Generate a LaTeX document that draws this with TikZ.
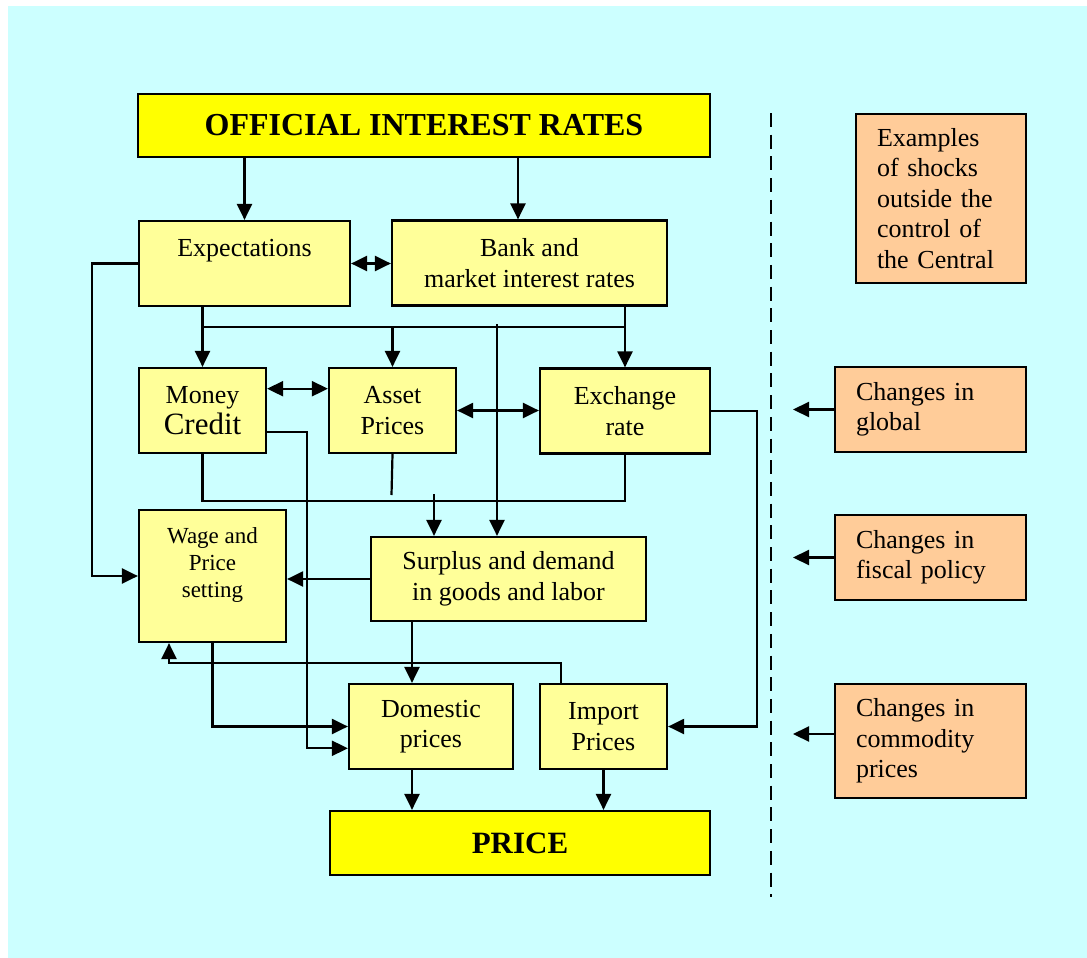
\documentclass[tikz,border=0pt]{standalone}
\usepackage{fontspec}
\setmainfont{Liberation Serif}
\usetikzlibrary{arrows.meta,calc}
\definecolor{bgcyan}{HTML}{CCFFFF}
\definecolor{lyel}{HTML}{FFFF99}
\definecolor{byel}{HTML}{FFFF00}
\definecolor{orng}{HTML}{FFCC99}
\tikzset{
  box/.style={draw=black, line width=2.2pt, fill=lyel, rectangle, inner sep=0pt,
    align=center, font=\fontsize{26}{30.5}\selectfont},
  bigbox/.style={box, fill=byel, font=\fontsize{32}{36}\selectfont\bfseries},
  shockbox/.style={draw=black, line width=2.2pt, fill=orng, rectangle, inner xsep=21pt,
    inner ysep=0pt, align=left, font=\fontsize{26}{30.5}\selectfont},
  conn/.style={line width=2.2pt, draw=black},
  arr/.style={conn, -{Triangle[length=16pt,width=15pt]}},
  darr/.style={conn, {Triangle[length=16pt,width=15pt]}-{Triangle[length=16pt,width=15pt]}},
}
\begin{document}
\begin{tikzpicture}[x=1pt,y=-1pt]
\useasboundingbox (0,0) rectangle (1087,958);
\fill[bgcyan] (8,6) rectangle (1087,958);

% main nodes
\node[bigbox, minimum width=572pt, minimum height=63pt] (off) at (424,125.5) {OFFICIAL INTEREST RATES};
\node[box, minimum width=211pt, minimum height=85pt] (exp) at (244.5,263.5) {Expectations\\\mbox{}};
\node[box, minimum width=275pt, minimum height=85pt] (bank) at (529.5,263) {Bank and\\market interest rates};
\node[box, minimum width=127pt, minimum height=85pt] (money) at (202.5,410.5) {Money\\[1pt]{\fontsize{31}{33}\selectfont Credit}};
\node[box, minimum width=127pt, minimum height=85pt] (asset) at (392.5,410.5) {Asset\\Prices};
\node[box, minimum width=170pt, minimum height=85pt] (exch) at (625,411) {Exchange\\rate};
\node[box, minimum width=147pt, minimum height=132pt, font=\fontsize{23}{27}\selectfont] (wage) at (212.5,576) {Wage and\\Price\\setting\\\mbox{}};
\node[box, minimum width=275pt, minimum height=84pt] (surplus) at (508.5,579) {Surplus and demand\\in goods and labor};
\node[box, minimum width=164pt, minimum height=85pt] (dom) at (431,726.5) {Domestic\\prices};
\node[box, minimum width=127pt, minimum height=85pt] (imp) at (603.5,726.5) {Import\\Prices};
\node[bigbox, minimum width=380pt, minimum height=64pt, font=\fontsize{31}{35}\selectfont\bfseries] (price) at (520,843) {PRICE};

% shock nodes
\node[shockbox, text width=128pt, minimum height=169pt] (ex) at (941,198.5) {Examples\\of shocks\\outside the\\control of\\the Central};
\node[shockbox, text width=149pt, minimum height=85pt] (glob) at (930.5,409.5) {Changes in\\global};
\node[shockbox, text width=149pt, minimum height=85pt] (fisc) at (930.5,557.5) {Changes in\\fiscal policy};
\node[shockbox, text width=149pt, minimum height=114pt] (comm) at (930.5,741) {Changes in\\commodity\\prices};

% helper coordinates
\coordinate (hA) at (203,327);
\coordinate (vtop) at (497,324);
\coordinate (lft) at (92,0);
\coordinate (mx) at (307,0);
\coordinate (hb) at (0,501);
\coordinate (sA) at (434,494);
\coordinate (sd) at (412,0);
\coordinate (fb) at (561,663);
\coordinate (fw) at (169,0);
\coordinate (ex2) at (757,0);
\coordinate (ra) at (793,0);
\coordinate (bk) at (518,0);
\coordinate (m1) at ($(money.north east)!0.25!(money.south east)$);
\coordinate (m2) at ($(money.north east)!0.75!(money.south east)$);
\coordinate (d2) at ($(dom.north west)!0.75!(dom.south west)$);
\coordinate (dtop) at (771,113);
\coordinate (dbot) at (771,897);

% connectors
\draw[arr] (exp.north |- off.south) -- (exp.north);
\draw[arr] (bk |- off.south) -- (bk |- bank.north);
\draw[darr] (exp.east) -- (exp.east -| bank.west);
\draw[arr] (exp.south -| money.north) -- (money.north);
\draw[conn] (money.north |- hA) -- (exch.north |- hA);
\draw[arr] (bank.south -| exch.north) -- (exch.north);
\draw[arr] (asset.north |- hA) -- (asset.north);
\draw[arr] (vtop) -- (vtop |- surplus.north);
\draw[darr] (m1) -- (m1 -| asset.west);
\draw[darr] (asset.east) -- (asset.east -| exch.west);
\draw[arr] (exp.west) -| (lft |- wage.west) -- (wage.west);
\draw[arr] (m2) -| (mx |- d2) -- (d2);
\draw[conn] (money.south) -- (money.south |- hb) -- (exch.south |- hb) -- (exch.south);
\draw[conn] (asset.south) -- ([xshift=-1pt]asset.south |- 0,495);
\draw[arr] (sA) -- (sA |- surplus.north);
\draw[arr] (surplus.west) -- (surplus.west -| wage.east);
\draw[arr] (sd |- surplus.south) -- (sd |- dom.north);
\draw[arr] (wage.south) |- (dom.west);
\draw[arr] (fb |- imp.north) -- (fb) -| (fw |- wage.south);
\draw[arr] (exch.east) -| (ex2 |- imp.east) -- (imp.east);
\draw[arr] (sd |- dom.south) -- (sd |- price.north);
\draw[arr] (imp.south) -- (imp.south |- price.north);

% shocks
\draw[line width=2.2pt, dash pattern=on 14pt off 7.7pt] (dtop) -- (dbot);
\draw[arr] (glob.west) -- (glob.west -| ra);
\draw[arr] (fisc.west) -- (fisc.west -| ra);
\draw[arr] ([yshift=7pt]comm.west) -- ([yshift=7pt]comm.west -| ra);
\end{tikzpicture}
\end{document}
